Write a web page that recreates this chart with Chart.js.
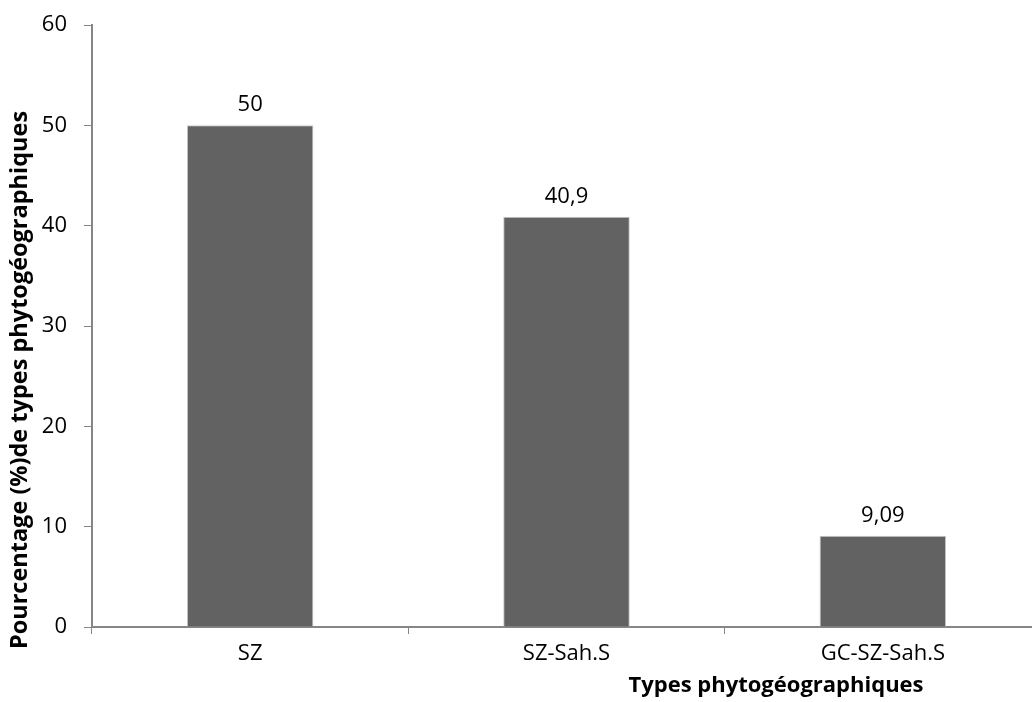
<!DOCTYPE html>
<html>
<head>
<meta charset="utf-8">
<script src="https://cdn.jsdelivr.net/npm/chart.js@4/dist/chart.umd.min.js"></script>
<style>
html,body{margin:0;padding:0;background:#fff;overflow:hidden;}
#wrap{width:1045px;height:702px;}
</style>
</head>
<body>
<div id="wrap"><canvas id="c" width="1045" height="702"></canvas></div>
<script>
const categories = ['SZ', 'SZ-Sah.S', 'GC-SZ-Sah.S'];
const values = [50, 40.9, 9.09];
const valueLabels = ['50', '40,9', '9,09'];
const yTicks = [0, 10, 20, 30, 40, 50, 60];
const yTitle = 'Pourcentage (%)de types phytogéographiques';
const xTitle = 'Types phytogéographiques';

const FONT = "'Open Sans', 'DejaVu Sans', sans-serif";
const AXIS = '#868686';

const labelsPlugin = {
  id: 'extras',
  afterDatasetsDraw(chart) {
    const ctx = chart.ctx;
    const meta = chart.getDatasetMeta(0);
    ctx.save();
    ctx.fillStyle = '#000';
    ctx.font = '22px ' + FONT;
    ctx.textAlign = 'center';
    ctx.textBaseline = 'alphabetic';
    meta.data.forEach((bar, i) => {
      ctx.fillText(valueLabels[i], bar.x, bar.y - 14);
    });
    // axis titles
    ctx.font = 'bold 22px ' + FONT;
    ctx.textBaseline = 'middle';
    ctx.textAlign = 'center';
    ctx.fillText(xTitle, 776, 686);
    ctx.font = 'bold 23.5px ' + FONT;
    ctx.translate(20, 380);
    ctx.rotate(-Math.PI / 2);
    ctx.fillText(yTitle, 0, 0);
    ctx.restore();
  }
};

new Chart(document.getElementById('c'), {
  type: 'bar',
  data: {
    labels: categories,
    datasets: [{
      data: values,
      backgroundColor: '#626262',
      borderColor: '#c8c8c8',
      borderWidth: 1,
      barPercentage: 0.4,
      categoryPercentage: 1.0
    }]
  },
  options: {
    responsive: false,
    animation: false,
    devicePixelRatio: 1,
    layout: { padding: { top: 25, right: 4, left: 0, bottom: 0 } },
    plugins: { legend: { display: false }, tooltip: { enabled: false } },
    scales: {
      x: {
        grid: { display: true, drawOnChartArea: false, drawTicks: true, tickLength: 7, color: AXIS, offset: true },
        border: { color: AXIS, width: 2 },
        ticks: { color: '#000', font: { family: FONT, size: 22 }, padding: 7, maxRotation: 0 },
        afterFit(s) { s.height = 75; s.paddingLeft = 0; s.paddingRight = 0; }
      },
      y: {
        min: 0, max: 60,
        afterBuildTicks(s) { s.ticks = yTicks.map(v => ({ value: v })); },
        grid: { display: true, drawOnChartArea: false, drawTicks: true, tickLength: 8, color: AXIS },
        border: { color: AXIS, width: 2 },
        ticks: { color: '#000', font: { family: FONT, size: 22 }, padding: 17 },
        afterFit(s) { s.width = 92; s.paddingTop = 0; s.paddingBottom = 0; }
      }
    }
  },
  plugins: [labelsPlugin]
});
</script>
</body>
</html>
